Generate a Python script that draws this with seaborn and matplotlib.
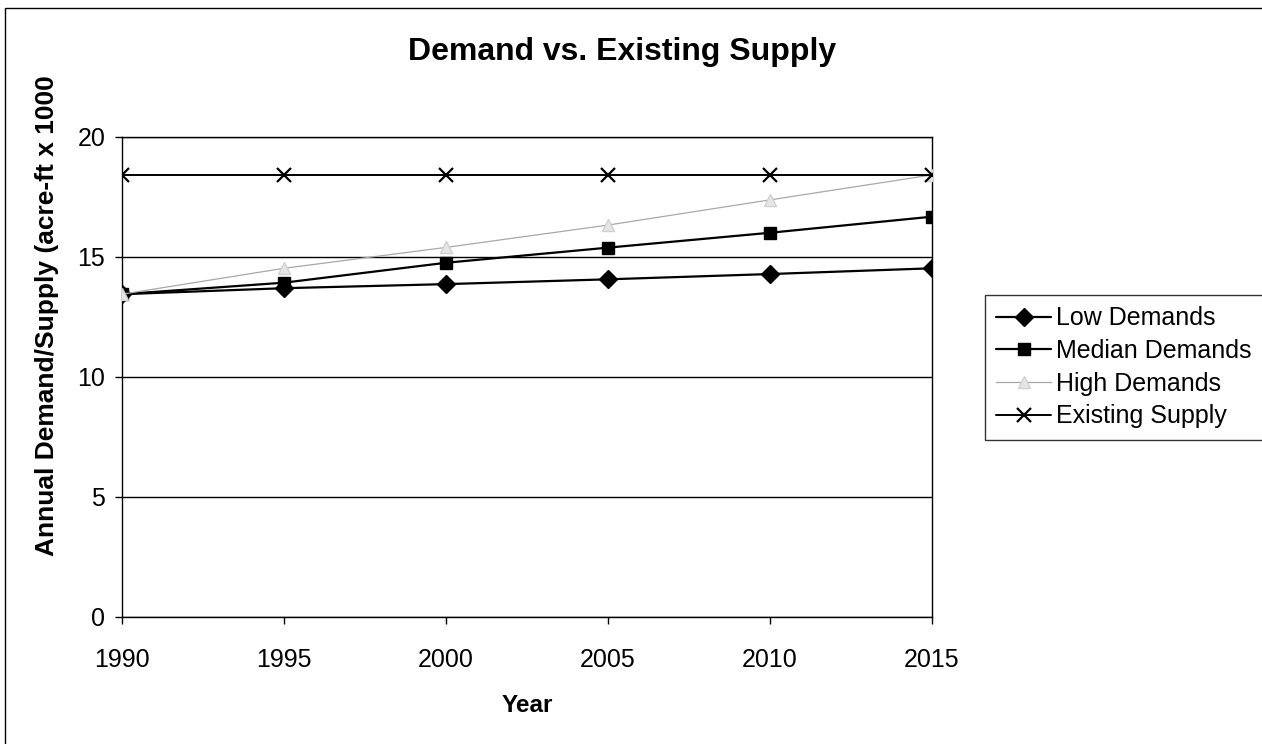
import matplotlib
matplotlib.use("Agg")
import matplotlib.pyplot as plt
import seaborn as sns
import pandas as pd
from matplotlib.patches import Rectangle

years = [1990, 1995, 2000, 2005, 2010, 2015]
low_demands = [13.45, 13.70, 13.87, 14.07, 14.29, 14.53]
median_demands = [13.45, 13.93, 14.76, 15.39, 16.01, 16.68]
high_demands = [13.45, 14.53, 15.40, 16.33, 17.38, 18.42]
existing_supply = [18.42, 18.42, 18.42, 18.42, 18.42, 18.42]
y_ticks = [0, 5, 10, 15, 20]

sns.set_theme(style="white")
plt.rcParams["font.family"] = ["Liberation Sans", "DejaVu Sans"]
plt.rcParams["text.color"] = "black"
plt.rcParams["axes.labelcolor"] = "black"
plt.rcParams["xtick.color"] = "black"
plt.rcParams["ytick.color"] = "black"

df = pd.DataFrame({
    "Year": years * 4,
    "Value": low_demands + median_demands + high_demands + existing_supply,
    "Series": (["Low Demands"] * 6 + ["Median Demands"] * 6
               + ["High Demands"] * 6 + ["Existing Supply"] * 6),
})

fig = plt.figure(figsize=(12.62, 7.44), dpi=100)
ax = fig.add_axes([122 / 1262, 1 - 617 / 744, (932 - 122) / 1262, (617 - 137) / 744])

styles = {
    "Low Demands": dict(color="black", marker="D", ms=9, lw=1.6, mfc="black", mec="black"),
    "Median Demands": dict(color="black", marker="s", ms=9, lw=1.6, mfc="black", mec="black"),
    "High Demands": dict(color="#a8a8a8", marker="^", ms=8, lw=0.9, mfc="#e6e6e6", mec="#d0d0d0"),
    "Existing Supply": dict(color="black", marker="x", ms=10, lw=1.4, mew=1.6, mec="black"),
}

for name, st in styles.items():
    sub = df[df["Series"] == name]
    sns.lineplot(data=sub, x="Year", y="Value", ax=ax, label=name,
                 color=st["color"], lw=st["lw"], marker=st["marker"],
                 markersize=st["ms"], markerfacecolor=st.get("mfc", st["color"]),
                 markeredgecolor=st.get("mec", st["color"]),
                 markeredgewidth=st.get("mew", 1.0), zorder=3)

ax.set_xlim(1990, 2015)
ax.set_ylim(0, 20)
ax.set_xticks(years)
ax.set_yticks(y_ticks)
ax.yaxis.grid(True, color="black", lw=1.0)
ax.xaxis.grid(False)
for s in ax.spines.values():
    s.set_color("black")
    s.set_linewidth(1.0)
ax.tick_params(axis="both", direction="out", length=5, width=1, color="black",
               labelsize=18, labelcolor="black", bottom=True, left=True)
ax.tick_params(axis="y", pad=7)
ax.tick_params(axis="x", pad=17)

ax.set_xlabel("")
ax.set_ylabel("")
fig.text(527 / 1262, 1 - 706 / 744, "Year",
         ha="center", va="center", fontsize=17.5, fontweight="bold")
fig.text(47 / 1262, 1 - 316 / 744, "Annual Demand/Supply (acre-ft x 1000",
         rotation=90, ha="center", va="center", fontsize=19, fontweight="bold")
fig.text(622 / 1262, 1 - 60 / 744, "Demand vs. Existing Supply",
         ha="center", va="baseline", fontsize=23, fontweight="bold")

leg = ax.legend(loc="upper left", bbox_to_anchor=(985 / 1262, 1 - 295 / 744),
                bbox_transform=fig.transFigure, frameon=True, fancybox=False,
                fontsize=18, handlelength=2.2, handletextpad=0.2,
                labelspacing=0.35, borderpad=0.45, borderaxespad=0)
leg.get_frame().set_edgecolor("black")
leg.get_frame().set_linewidth(1.0)

# outer chart border
fig.patches.append(Rectangle((5 / 1262, -0.01), 1.1, 1 - 8 / 744 + 0.01,
                             transform=fig.transFigure, fill=False,
                             edgecolor="black", lw=1.0))

fig.savefig("out.png", dpi=100)
